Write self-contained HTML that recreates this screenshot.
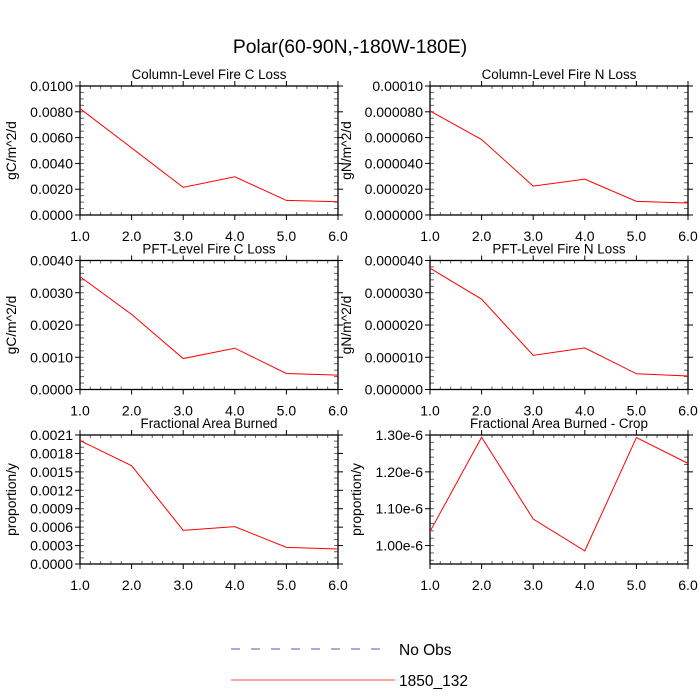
<!DOCTYPE html>
<html><head><meta charset="utf-8"><style>
html,body{margin:0;padding:0;background:#fff;}
svg{display:block;font-family:"Liberation Sans",sans-serif;}
</style></head><body>
<svg id="chart" width="700" height="700" viewBox="0 0 700 700">
<text x="350" y="53" font-size="19.3" text-anchor="middle">Polar(60-90N,-180W-180E)</text>
<g>
<line x1="231" y1="649" x2="388" y2="649" stroke="#5555bb" stroke-width="1" stroke-dasharray="9,11"/>
<text x="399" y="655" font-size="15.5">No Obs</text>
<line x1="231" y1="680" x2="395" y2="680" stroke="#ff4444" stroke-width="1"/>
<text x="399" y="686" font-size="15.5">1850_132</text>
</g>
</svg>
<script>
const xCats = [1, 2, 3, 4, 5, 6];
const xTickLabels = ["1.0", "2.0", "3.0", "4.0", "5.0", "6.0"];
const colCLoss = [0.00825, 0.0052, 0.00214, 0.00296, 0.00113, 0.00103];
const colNLoss = [0.0000807, 0.0000585, 0.0000224, 0.0000278, 0.0000106, 0.0000093];
const pftCLoss = [0.00350, 0.00233, 0.00096, 0.00128, 0.000496, 0.000444];
const pftNLoss = [0.0000376, 0.0000280, 0.0000106, 0.0000129, 0.0000049, 0.0000042];
const areaBurned = [0.00201, 0.00160, 0.000548, 0.000608, 0.000271, 0.000244];
const areaBurnedCrop = [1.038e-6, 1.294e-6, 1.072e-6, 0.9856e-6, 1.293e-6, 1.223e-6];
const yTicks1 = ["0.0000", "0.0020", "0.0040", "0.0060", "0.0080", "0.0100"];
const yTicks2 = ["0.000000", "0.000020", "0.000040", "0.000060", "0.000080", "0.00010"];
const yTicks3 = ["0.0000", "0.0010", "0.0020", "0.0030", "0.0040"];
const yTicks4 = ["0.000000", "0.000010", "0.000020", "0.000030", "0.000040"];
const yTicks5 = ["0.0000", "0.0003", "0.0006", "0.0009", "0.0012", "0.0015", "0.0018", "0.0021"];
const yTicks6 = ["1.00e-6", "1.10e-6", "1.20e-6", "1.30e-6"];

const NS = "http://www.w3.org/2000/svg";
const svg = document.getElementById("chart");
function mk(tag, attrs, parent) {
  const e = document.createElementNS(NS, tag);
  for (const k in attrs) e.setAttribute(k, attrs[k]);
  parent.appendChild(e);
  return e;
}
const panels = [
  {name:"column-c-loss", title:"Column-Level Fire C Loss", ytitle:"gC/m^2/d", L:80, T:86, data:colCLoss, ticks:yTicks1, ymin:0, ymax:0.01, minorDiv:4, ytx:12},
  {name:"column-n-loss", title:"Column-Level Fire N Loss", ytitle:"gN/m^2/d", L:430, T:86, data:colNLoss, ticks:yTicks2, ymin:0, ymax:0.0001, minorDiv:4, ytx:347},
  {name:"pft-c-loss", title:"PFT-Level Fire C Loss", ytitle:"gC/m^2/d", L:80, T:260.5, data:pftCLoss, ticks:yTicks3, ymin:0, ymax:0.004, minorDiv:5, ytx:12},
  {name:"pft-n-loss", title:"PFT-Level Fire N Loss", ytitle:"gN/m^2/d", L:430, T:260.5, data:pftNLoss, ticks:yTicks4, ymin:0, ymax:0.00004, minorDiv:5, ytx:347},
  {name:"area-burned", title:"Fractional Area Burned", ytitle:"proportion/y", L:80, T:435, data:areaBurned, ticks:yTicks5, ymin:0, ymax:0.0021, minorDiv:3, ytx:12},
  {name:"area-burned-crop", title:"Fractional Area Burned - Crop", ytitle:"proportion/y", L:430, T:435, data:areaBurnedCrop, ticks:yTicks6, ymin:0.95e-6, ymax:1.30e-6, minorDiv:5, ytx:357}
];
const W = 258, H = 129;
panels.forEach(p => {
  const g = mk("g", {}, svg);
  
  
  const xs = v => p.L + (v - xCats[0]) / (xCats[xCats.length-1] - xCats[0]) * W;
  const ys = v => p.T + H - (v - p.ymin) / (p.ymax - p.ymin) * H;
  const B = p.T + H, R = p.L + W;
  xCats.forEach((c, i) => {
    const x = xs(c);
    mk("line", {x1:x, y1:B, x2:x, y2:B+5, stroke:"#000"}, g);
    mk("line", {x1:x, y1:p.T, x2:x, y2:p.T-5, stroke:"#000"}, g);
    const t = mk("text", {x:x, y:B+26, "font-size":14, "text-anchor":"middle"}, g);
    t.textContent = xTickLabels[i];
    
    
    if (i < xCats.length - 1) {
      for (let k = 1; k < 5; k++) {
        const xm = xs(c + k/5);
        mk("line", {x1:xm, y1:B, x2:xm, y2:B-3, stroke:"#666"}, g);
        mk("line", {x1:xm, y1:p.T, x2:xm, y2:p.T+3, stroke:"#666"}, g);
      }
    }
  });
  const vals = p.ticks.map(s => parseFloat(s));
  const step = vals[1] - vals[0];
  vals.forEach((v, i) => {
    const y = ys(v);
    mk("line", {x1:p.L, y1:y, x2:p.L-5, y2:y, stroke:"#000"}, g);
    mk("line", {x1:R, y1:y, x2:R+5, y2:y, stroke:"#000"}, g);
    const t = mk("text", {x:p.L-7, y:y+5, "font-size":14, "text-anchor":"end"}, g);
    t.textContent = p.ticks[i];
    
    
  });
  const ms = step / p.minorDiv;
  for (let v = vals[0] - 5*step; v <= p.ymax + 1e-15; v += ms) {
    if (v < p.ymin - 1e-15) continue;
    const y = ys(v);
    mk("line", {x1:p.L, y1:y, x2:p.L+4, y2:y, stroke:"#666"}, g);
    mk("line", {x1:R, y1:y, x2:R-4, y2:y, stroke:"#666"}, g);
  }
  const fr = mk("rect", {x:p.L, y:p.T, width:W, height:H, fill:"none", stroke:"#000", "stroke-width":1.3}, g);
  
  
  const pts = p.data.map((v, i) => xs(xCats[i]).toFixed(2) + "," + ys(v).toFixed(2)).join(" ");
  const pl = mk("polyline", {points:pts, fill:"none", stroke:"#ff0000", "stroke-width":1}, g);
  
  
  const tt = mk("text", {x:p.L + W/2, y:p.T - 7, "font-size":13.4, "text-anchor":"middle"}, g);
  tt.textContent = p.title;
  
  
  const yt = mk("text", {x:0, y:0, "font-size":13.8, "text-anchor":"middle", transform:"translate(" + (p.ytx+4) + "," + (p.T + H/2) + ") rotate(-90)"}, g);
  yt.textContent = p.ytitle;
  
  
});
</script>
</body></html>
